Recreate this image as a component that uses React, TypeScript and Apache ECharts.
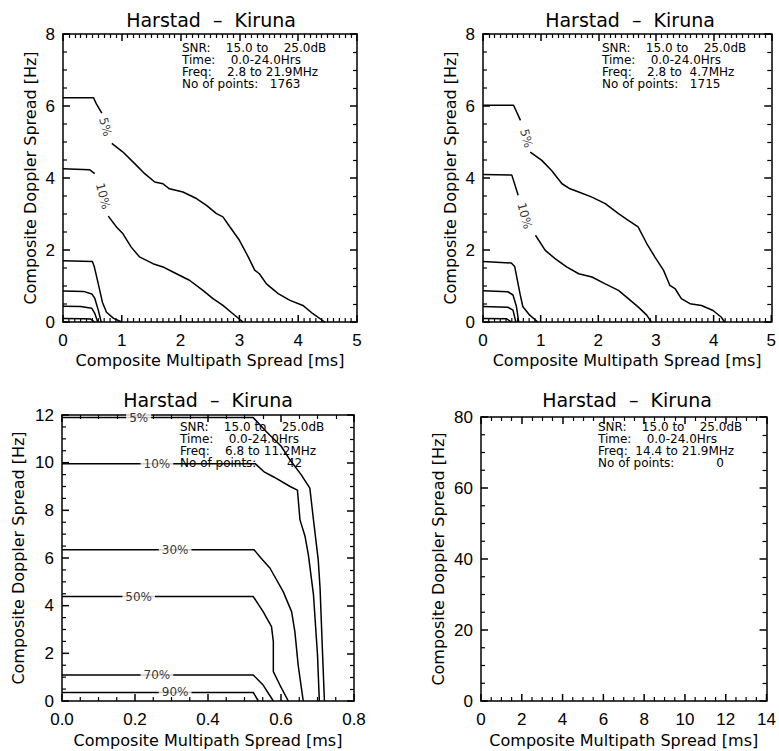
import React, { useEffect, useRef } from 'react';
import * as echarts from 'echarts';

// ---------- text ----------
const TITLE = 'Harstad  –  Kiruna';
const X_NAME = 'Composite Multipath Spread [ms]';
const Y_NAME = 'Composite Doppler Spread [Hz]';

// ---------- tick labels ----------
const P1_X_TICKS = [0, 1, 2, 3, 4, 5];
const P1_Y_TICKS = [0, 2, 4, 6, 8];
const P2_X_TICKS = [0, 1, 2, 3, 4, 5];
const P2_Y_TICKS = [0, 2, 4, 6, 8];
const P3_X_TICKS = [0.0, 0.2, 0.4, 0.6, 0.8];
const P3_Y_TICKS = [0, 2, 4, 6, 8, 10, 12];
const P4_X_TICKS = [0, 2, 4, 6, 8, 10, 12, 14];
const P4_Y_TICKS = [0, 20, 40, 60, 80];

// ---------- info boxes ----------
const INFO_1 = ['SNR:    15.0 to    25.0dB', 'Time:    0.0-24.0Hrs', 'Freq:    2.8 to 21.9MHz', 'No of points:   1763'];
const INFO_2 = ['SNR:    15.0 to    25.0dB', 'Time:    0.0-24.0Hrs', 'Freq:    2.8 to  4.7MHz', 'No of points:   1715'];
const INFO_3 = ['SNR:    15.0 to    25.0dB', 'Time:    0.0-24.0Hrs', 'Freq:    6.8 to 11.2MHz', 'No of points:        42'];
const INFO_4 = ['SNR:    15.0 to    25.0dB', 'Time:    0.0-24.0Hrs', 'Freq:  14.4 to 21.9MHz', 'No of points:           0'];

type Pt = [number, number] | null;

// ---------- panel 1 contours (2.8-21.9 MHz) ----------
const P1_C05: Pt[] = [[0, 6.23], [0.52, 6.23], [0.57, 6.05], [0.66, 5.8], null, [0.83, 4.96], [1.02, 4.72], [1.22, 4.4], [1.39, 4.12], [1.56, 3.89], [1.7, 3.84], [1.81, 3.7], [2.04, 3.61], [2.27, 3.43], [2.44, 3.24], [2.61, 3.01], [2.72, 2.92], [2.84, 2.64], [3.0, 2.27], [3.15, 1.81], [3.26, 1.44], [3.34, 1.34], [3.46, 1.06], [3.66, 0.79], [3.86, 0.6], [4.08, 0.46], [4.25, 0.23], [4.45, 0]];
const P1_C10: Pt[] = [[0, 4.26], [0.45, 4.23], [0.54, 4.12], null, [0.77, 2.94], [0.91, 2.64], [1.02, 2.45], [1.16, 2.08], [1.3, 1.81], [1.53, 1.62], [1.7, 1.53], [1.87, 1.39], [2.15, 1.16], [2.38, 0.88], [2.55, 0.65], [2.72, 0.46], [2.89, 0.23], [3.06, 0]];
const P1_C30: Pt[] = [[0, 1.7], [0.5, 1.68], [0.53, 1.55], [0.6, 1.06], [0.67, 0.55], [0.74, 0.27], [0.86, 0.1], [1.0, 0]];
const P1_C50: Pt[] = [[0, 0.86], [0.35, 0.85], [0.49, 0.78], [0.54, 0.66], [0.6, 0.33], [0.65, 0]];
const P1_C70: Pt[] = [[0, 0.44], [0.3, 0.43], [0.49, 0.38], [0.54, 0.24], [0.59, 0]];
const P1_C90: Pt[] = [[0, 0.1], [0.35, 0.09], [0.47, 0.08], [0.54, 0]];
const P1_LABEL_TEXT = ['5%', '10%'];
const P1_LABEL_X = [0.72, 0.68];
const P1_LABEL_Y = [5.42, 3.5];

// ---------- panel 2 contours (2.8-4.7 MHz) ----------
const P2_C05: Pt[] = [[0, 6.02], [0.53, 6.02], [0.65, 5.6], null, [0.82, 4.72], [1.02, 4.49], [1.19, 4.21], [1.37, 3.84], [1.51, 3.7], [1.66, 3.61], [1.89, 3.47], [2.12, 3.29], [2.35, 3.01], [2.52, 2.82], [2.69, 2.64], [2.84, 2.18], [2.98, 1.81], [3.13, 1.44], [3.24, 1.02], [3.33, 0.93], [3.44, 0.65], [3.59, 0.51], [3.79, 0.46], [3.99, 0.32], [4.13, 0.14], [4.19, 0]];
const P2_C10: Pt[] = [[0, 4.1], [0.5, 4.08], [0.61, 3.52], null, [0.91, 2.41], [1.08, 1.99], [1.25, 1.76], [1.45, 1.53], [1.66, 1.34], [1.89, 1.25], [2.12, 1.06], [2.35, 0.88], [2.52, 0.65], [2.69, 0.42], [2.84, 0.19], [2.92, 0]];
const P2_C30: Pt[] = [[0, 1.68], [0.49, 1.64], [0.55, 1.54], [0.64, 0.8], [0.69, 0.43], [0.81, 0.19], [0.95, 0]];
const P2_C50: Pt[] = [[0, 0.87], [0.43, 0.84], [0.52, 0.75], [0.58, 0.43], [0.62, 0]];
const P2_C70: Pt[] = [[0, 0.43], [0.43, 0.41], [0.52, 0.33], [0.57, 0]];
const P2_C90: Pt[] = [[0, 0.1], [0.41, 0.09], [0.49, 0]];
const P2_LABEL_TEXT = ['5%', '10%'];
const P2_LABEL_X = [0.75, 0.72];
const P2_LABEL_Y = [5.1, 2.95];

// ---------- panel 3 contours (6.8-11.2 MHz) ----------
const P3_C05: Pt[] = [[0, 11.89], [0.524, 11.89], [0.56, 11.3], [0.6, 10.7], [0.625, 10.11], [0.655, 9.5], [0.679, 8.93], [0.689, 7.6], [0.702, 5.92], [0.707, 4.74], [0.714, 1.93], [0.719, 0]];
const P3_C10: Pt[] = [[0, 9.95], [0.53, 9.95], [0.555, 9.6], [0.58, 9.4], [0.625, 9.0], [0.645, 8.85], [0.652, 7.6], [0.666, 6.9], [0.675, 6.13], [0.689, 4.45], [0.7, 1.93], [0.705, 0]];
const P3_C30: Pt[] = [[0, 6.35], [0.526, 6.35], [0.545, 6.0], [0.57, 5.57], [0.606, 4.59], [0.629, 3.75], [0.638, 2.91], [0.647, 1.51], [0.656, 0.53], [0.661, 0]];
const P3_C50: Pt[] = [[0, 4.38], [0.524, 4.38], [0.551, 3.75], [0.574, 3.12], [0.579, 2.49], [0.579, 1.23], [0.597, 0.67], [0.62, 0]];
const P3_C70: Pt[] = [[0, 1.09], [0.524, 1.09], [0.551, 0.67], [0.579, 0]];
const P3_C90: Pt[] = [[0, 0.36], [0.524, 0.36], [0.538, 0]];
const P3_LABEL_TEXT = ['5%', '10%', '30%', '50%', '70%', '90%'];
const P3_LABEL_X = [0.21, 0.26, 0.31, 0.21, 0.26, 0.31];
const P3_LABEL_Y = [11.89, 9.95, 6.35, 4.38, 1.09, 0.36];

// ---------- layout ----------
const PANELS = [
  {
    grid: { left: 63, top: 34, width: 294, height: 288 },
    xTicks: P1_X_TICKS, yTicks: P1_Y_TICKS, xMinor: 10, yMinor: 4, xDigits: 0,
    contours: [P1_C05, P1_C10, P1_C30, P1_C50, P1_C70, P1_C90],
    labels: { text: P1_LABEL_TEXT, x: P1_LABEL_X, y: P1_LABEL_Y }, labelRotate: -75, labelBg: false,
    info: INFO_1, infoPos: [182, 42], titlePos: [211, 20], xNameGap: 30, yNameGap: 25,
  },
  {
    grid: { left: 483, top: 34, width: 290, height: 288 },
    xTicks: P2_X_TICKS, yTicks: P2_Y_TICKS, xMinor: 10, yMinor: 4, xDigits: 0,
    contours: [P2_C05, P2_C10, P2_C30, P2_C50, P2_C70, P2_C90],
    labels: { text: P2_LABEL_TEXT, x: P2_LABEL_X, y: P2_LABEL_Y }, labelRotate: -75, labelBg: false,
    info: INFO_2, infoPos: [602, 42], titlePos: [630, 20], xNameGap: 30, yNameGap: 25,
  },
  {
    grid: { left: 62, top: 415, width: 292, height: 286 },
    xTicks: P3_X_TICKS, yTicks: P3_Y_TICKS, xMinor: 4, yMinor: 4, xDigits: 1,
    contours: [P3_C05, P3_C10, P3_C30, P3_C50, P3_C70, P3_C90],
    labels: { text: P3_LABEL_TEXT, x: P3_LABEL_X, y: P3_LABEL_Y }, labelRotate: 0, labelBg: true,
    info: INFO_3, infoPos: [180, 421], titlePos: [208, 400], xNameGap: 31, yNameGap: 36,
  },
  {
    grid: { left: 481, top: 417, width: 291, height: 284 },
    xTicks: P4_X_TICKS, yTicks: P4_Y_TICKS, xMinor: 4, yMinor: 4, xDigits: 0,
    contours: [] as Pt[][],
    labels: { text: [] as string[], x: [] as number[], y: [] as number[] }, labelRotate: 0, labelBg: false,
    info: INFO_4, infoPos: [598, 421], titlePos: [627, 400], xNameGap: 31, yNameGap: 35,
  },
];

const AXIS_FONT = 'Liberation Sans';
const NAME_FONT = 'DejaVu Sans';
const MAJOR_LEN = 7;
const MINOR_LEN = 4;
const TICK_COLOR = '#000';

function splitSegments(pts: Pt[]): [number, number][][] {
  const segs: [number, number][][] = [];
  let cur: [number, number][] = [];
  for (const p of pts) {
    if (p === null) {
      if (cur.length) segs.push(cur);
      cur = [];
    } else cur.push(p);
  }
  if (cur.length) segs.push(cur);
  return segs;
}

function tickValues(ticks: number[], minor: number) {
  const major = ticks.slice();
  const minors: number[] = [];
  const step = (ticks[1] - ticks[0]) / minor;
  for (let k = 0; k < ticks.length - 1; k++) {
    for (let m = 1; m < minor; m++) minors.push(ticks[k] + m * step);
  }
  return { major, minors };
}

function labelAxis(gridIndex: number, ticks: number[], position: string, name: string, nameGap: number, digits: number, labelMargin: number) {
  return {
    type: 'value', gridIndex, position,
    min: ticks[0], max: ticks[ticks.length - 1], interval: ticks[1] - ticks[0],
    axisLine: { show: true, onZero: false, lineStyle: { color: '#000', width: 1.5 } },
    axisTick: { show: false }, minorTick: { show: false },
    splitLine: { show: false }, minorSplitLine: { show: false },
    axisLabel: {
      show: true, color: '#000', fontSize: 17, fontFamily: AXIS_FONT, margin: labelMargin,
      showMinLabel: true, showMaxLabel: true,
      formatter: (v: number) => v.toFixed(digits),
    },
    name, nameLocation: 'middle', nameGap,
    nameTextStyle: { color: '#000', fontSize: 16, fontFamily: NAME_FONT },
  };
}

function tickAxis(gridIndex: number, ticks: number[], minor: number, position: string) {
  return {
    type: 'value', gridIndex, position,
    min: ticks[0], max: ticks[ticks.length - 1], interval: ticks[1] - ticks[0],
    axisLine: { show: true, onZero: false, lineStyle: { color: '#000', width: 1.5 } },
    axisTick: { show: true, inside: true, length: MAJOR_LEN, lineStyle: { color: TICK_COLOR, width: 1.5 } },
    minorTick: { show: true, splitNumber: minor, length: MINOR_LEN, lineStyle: { color: TICK_COLOR, width: 1.2 } },
    splitLine: { show: false }, minorSplitLine: { show: false },
    axisLabel: { show: false },
    name: '',
  };
}

export default function App() {
  const ref = useRef<HTMLDivElement>(null);
  useEffect(() => {
    if (!ref.current) return;
    const chart = echarts.init(ref.current, undefined, { renderer: 'svg' });
    const grids: any[] = [];
    const xAxes: any[] = [];
    const yAxes: any[] = [];
    const series: any[] = [];
    const graphics: any[] = [];
    const axisIdx: { xi: number; yi: number }[] = [];

    PANELS.forEach((p, i) => {
      grids.push({ ...p.grid, containLabel: false });
      const xi = xAxes.length;
      const yi = yAxes.length;
      axisIdx.push({ xi, yi });
      xAxes.push(labelAxis(i, p.xTicks, 'bottom', X_NAME, p.xNameGap, p.xDigits, 10));
      xAxes.push(tickAxis(i, p.xTicks, p.xMinor, 'top'));
      yAxes.push(labelAxis(i, p.yTicks, 'left', Y_NAME, p.yNameGap, 0, 8));
      yAxes.push(tickAxis(i, p.yTicks, p.yMinor, 'right'));

      p.contours.forEach((c) => {
        splitSegments(c).forEach((seg) => {
          series.push({
            type: 'line', xAxisIndex: xi, yAxisIndex: yi, data: seg,
            symbol: 'none', showSymbol: false, silent: true, z: 2,
            lineStyle: { color: '#000', width: 1.5 },
          });
        });
      });

      if (p.labels.text.length) {
        series.push({
          type: 'scatter', xAxisIndex: xi, yAxisIndex: yi, z: 10, silent: true,
          symbolSize: 1, itemStyle: { color: 'rgba(0,0,0,0)' },
          data: p.labels.text.map((t, k) => ({ name: t, value: [p.labels.x[k], p.labels.y[k]] })),
          label: {
            show: true, position: 'inside', formatter: '{b}', rotate: p.labelRotate,
            color: '#000', fontSize: 12, fontFamily: NAME_FONT,
            backgroundColor: p.labelBg ? '#fff' : 'transparent', padding: p.labelBg ? [0, 3] : 0,
          },
        });
      }

      graphics.push({
        type: 'text', x: p.titlePos[0], y: p.titlePos[1],
        style: { text: TITLE, fill: '#000', font: `19px "${NAME_FONT}"`, textAlign: 'center', textVerticalAlign: 'middle' },
      });
      graphics.push({
        type: 'text', x: p.infoPos[0], y: p.infoPos[1], z: 20,
        style: { text: p.info.join('\n'), fill: '#000', font: `12px "${NAME_FONT}"`, lineHeight: 12, textAlign: 'left', textVerticalAlign: 'top' },
      });
    });

    chart.setOption({
      animation: false,
      backgroundColor: '#fff',
      grid: grids,
      xAxis: xAxes,
      yAxis: yAxes,
      series,
      graphic: graphics,
    });

    // inward ticks along the bottom and left edges, positioned through the axes' scales
    const tickGraphics: any[] = [];
    PANELS.forEach((p, i) => {
      const { xi, yi } = axisIdx[i];
      const toX = (v: number) => {
        const r = chart.convertToPixel({ xAxisIndex: xi }, v) as any;
        const n = Array.isArray(r) ? r[0] : r;
        return Number.isFinite(n) ? n : p.grid.left + ((v - p.xTicks[0]) / (p.xTicks[p.xTicks.length - 1] - p.xTicks[0])) * p.grid.width;
      };
      const toY = (v: number) => {
        const r = chart.convertToPixel({ yAxisIndex: yi }, v) as any;
        const n = Array.isArray(r) ? r[1] : r;
        return Number.isFinite(n) ? n : p.grid.top + p.grid.height - ((v - p.yTicks[0]) / (p.yTicks[p.yTicks.length - 1] - p.yTicks[0])) * p.grid.height;
      };
      const yBottom = toY(p.yTicks[0]);
      const xLeft = toX(p.xTicks[0]);
      const xt = tickValues(p.xTicks, p.xMinor);
      const yt = tickValues(p.yTicks, p.yMinor);
      const addX = (v: number, len: number, w: number) => {
        const x = toX(v);
        tickGraphics.push({ type: 'line', silent: true, z: 100, shape: { x1: x, y1: yBottom, x2: x, y2: yBottom - len }, style: { stroke: TICK_COLOR, lineWidth: w } });
      };
      const addY = (v: number, len: number, w: number) => {
        const y = toY(v);
        tickGraphics.push({ type: 'line', silent: true, z: 100, shape: { x1: xLeft, y1: y, x2: xLeft + len, y2: y }, style: { stroke: TICK_COLOR, lineWidth: w } });
      };
      xt.major.forEach((v) => addX(v, MAJOR_LEN, 1.5));
      xt.minors.forEach((v) => addX(v, MINOR_LEN, 1.2));
      yt.major.forEach((v) => addY(v, MAJOR_LEN, 1.5));
      yt.minors.forEach((v) => addY(v, MINOR_LEN, 1.2));
    });
    chart.setOption({ graphic: graphics.concat(tickGraphics) });

    return () => chart.dispose();
  }, []);
  return <div ref={ref} style={{ position: 'absolute', left: 0, top: 0, width: 779, height: 751 }} />;
}
